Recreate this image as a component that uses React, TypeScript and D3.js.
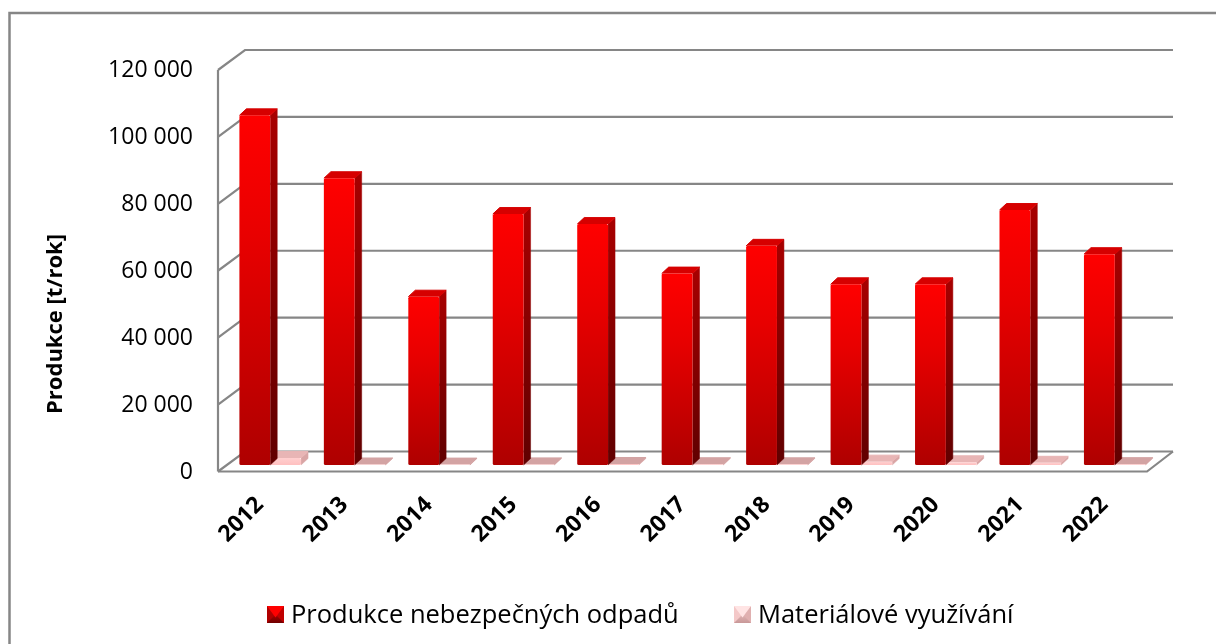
import React, { useEffect, useRef } from 'react';
import * as d3 from 'd3';

const years = ['2012', '2013', '2014', '2015', '2016', '2017', '2018', '2019', '2020', '2021', '2022'];
const hazardous = [104500, 85700, 50300, 75000, 72000, 57200, 65500, 54000, 54000, 76200, 63000];
const material = [2100, 150, 120, 180, 300, 220, 200, 1000, 800, 650, 250];
const yTicks = [0, 20000, 40000, 60000, 80000, 100000, 120000];
const seriesNames = ['Produkce nebezpečných odpadů', 'Materiálové využívání'];

const width = 1216;
const height = 644;
const font = '"Open Sans", sans-serif';
const grey = '#868686';

const App = () => {
  const svgRef = useRef<SVGSVGElement>(null);

  useEffect(() => {
    const svg = d3.select(svgRef.current);
    svg.selectAll('*').remove();

    const left = 218;
    const right = 1147;
    const wallX = 27;
    const wallY = 20;
    // bars stand a third of the way back on the floor
    const barX = 10;
    const barY = 6.5;
    const topX = 7;
    const topY = 6.5;

    const x = d3.scaleBand().domain(years).range([left, right]).paddingInner(0.27).paddingOuter(0.135);
    const inner = d3.scaleBand().domain(['a', 'b']).range([0, x.bandwidth()]);
    const y = d3.scaleLinear().domain([0, 120000]).range([471.5, 70]);

    const fmt = (v: number) => d3.format(',')(v).replace(/,/g, ' ');

    const defs = svg.append('defs');
    const grad = (id: string, stops: [number, string][]) => {
      const g = defs.append('linearGradient').attr('id', id).attr('x1', 0).attr('y1', 0).attr('x2', 0).attr('y2', 1);
      stops.forEach(([o, c]) => g.append('stop').attr('offset', o).attr('stop-color', c));
    };
    grad('redFront', [[0, '#ff0000'], [0.35, '#e80000'], [1, '#ae0000']]);
    grad('redSide', [[0, '#a80000'], [1, '#600000']]);
    grad('pinkFront', [[0, '#ffcfcf'], [1, '#ffc0c0']]);
    grad('redKey', [[0, '#e00000'], [1, '#700000']]);
    grad('pinkKey', [[0, '#f8d0d0'], [1, '#c89898']]);

    // the frame is cut off on the right and at the bottom
    svg.append('path')
      .attr('d', d3.line()([[9.5, height], [9.5, 13], [width, 13]]))
      .attr('fill', 'none').attr('stroke', grey).attr('stroke-width', 2.5);

    // walls and floor
    const wall = svg.append('g').attr('fill', 'none').attr('stroke', grey).attr('stroke-width', 2.2);
    yTicks.forEach(t => {
      wall.append('path').attr('d', d3.line()([
        [left, y(t)],
        [left + wallX, y(t) - wallY],
        [t === 0 ? right + wallX - 1 : 1173, y(t) - wallY],
      ]));
    });
    wall.append('line').attr('x1', left).attr('x2', left).attr('y1', y(120000)).attr('y2', y(0));
    wall.append('path').attr('d', d3.line()([
      [left, y(0)], [right, y(0)], [right + wallX - 1, y(0) - wallY],
    ]));

    const drawBar = (i: number, v: number, key: string, colors: string[]) => {
      const x0 = x(years[i])! + inner(key)! + barX;
      const w = inner.bandwidth();
      const yBottom = y(0) - barY;
      const yTop = yBottom - (y(0) - y(v));
      const g = svg.append('g');
      g.append('path').attr('fill', colors[1]).attr('stroke', colors[1]).attr('stroke-width', 0.5).attr('stroke-linejoin', 'round')
        .attr('d', d3.line()([
          [x0 + w, yTop], [x0 + w + topX, yTop - topY], [x0 + w + topX, yBottom - topY], [x0 + w, yBottom],
        ]));
      g.append('path').attr('fill', colors[2]).attr('stroke', colors[2]).attr('stroke-width', 1).attr('stroke-linejoin', 'round')
        .attr('d', d3.line()([
          [x0, yTop], [x0 + topX, yTop - topY], [x0 + w + topX, yTop - topY], [x0 + w, yTop],
        ]));
      g.append('rect').attr('x', x0).attr('y', yTop).attr('width', w).attr('height', Math.max(yBottom - yTop, 0.5))
        .attr('rx', 1.5).attr('fill', colors[0]);
    };

    years.forEach((_, i) => {
      drawBar(i, material[i], 'b', ['url(#pinkFront)', '#d9a5a5', material[i] > 500 ? '#e8b5b5' : '#d3a3a3']);
    });
    years.forEach((_, i) => {
      drawBar(i, hazardous[i], 'a', ['url(#redFront)', 'url(#redSide)', '#d60000']);
    });

    // y axis labels
    svg.append('g').selectAll('text').data(yTicks).join('text')
      .attr('x', 193).attr('y', d => y(d) + 7)
      .attr('text-anchor', 'end')
      .attr('font-family', font).attr('font-size', 23).attr('fill', '#000')
      .text(d => fmt(d));

    // x axis labels
    svg.append('g').selectAll('text').data(years).join('text')
      .attr('transform', d => `translate(${x(d)! - 2},${543}) rotate(-45)`)
      .attr('font-family', font).attr('font-size', 23).attr('font-weight', 700).attr('fill', '#000')
      .text(d => d);

    svg.append('text')
      .attr('transform', 'translate(62,324) rotate(-90)')
      .attr('text-anchor', 'middle')
      .attr('font-family', font).attr('font-size', 22).attr('font-weight', 700).attr('fill', '#000')
      .text('Produkce [t/rok]');

    // legend
    const legendX = [267, 734];
    const keyColors = [
      ['#ff0000', '#c00000', 'url(#redKey)', '#600000', '#b00000'],
      ['#ffe4e4', '#e0b0b0', 'url(#pinkKey)', '#b88888', '#f4c8c8'],
    ];
    seriesNames.forEach((name, i) => {
      const kx = legendX[i];
      const ky = 606;
      const s = 17;
      const b = 3;
      const g = svg.append('g');
      const c = keyColors[i];
      g.append('rect').attr('x', kx).attr('y', ky).attr('width', s).attr('height', s).attr('fill', c[2]);
      g.append('path').attr('fill', c[4]).attr('d', d3.line()([[kx, ky], [kx + s / 2, ky + s / 2], [kx, ky + s]]));
      g.append('path').attr('fill', c[1]).attr('d', d3.line()([[kx + s, ky], [kx + s / 2, ky + s / 2], [kx + s, ky + s]]));
      g.append('path').attr('fill', c[0]).attr('d', d3.line()([[kx, ky], [kx + s, ky], [kx + s / 2, ky + s / 2 + b]]));
      g.append('text')
        .attr('x', kx + s + 7).attr('y', 623)
        .attr('font-family', font).attr('font-size', 25.5).attr('fill', '#000')
        .text(name);
    });
  }, []);

  return (
    <svg
      ref={svgRef}
      width={width}
      height={height}
      viewBox={`0 0 ${width} ${height}`}
      style={{ position: 'fixed', left: 0, top: 0 }}
    />
  );
};

export default App;
